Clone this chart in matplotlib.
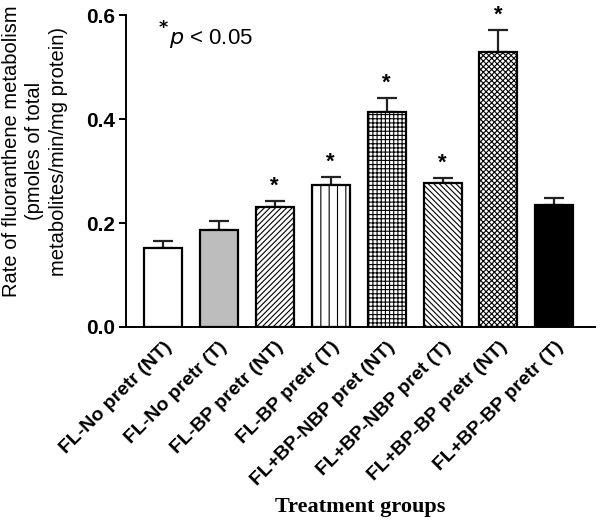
import matplotlib
matplotlib.use("Agg")
import matplotlib.pyplot as plt
import numpy as np

categories = ["FL-No pretr (NT)", "FL-No pretr (T)", "FL-BP pretr (NT)", "FL-BP pretr (T)",
              "FL+BP-NBP pret (NT)", "FL+BP-NBP pret (T)", "FL+BP-BP pretr (NT)", "FL+BP-BP pretr (T)"]
values = [0.152, 0.187, 0.231, 0.273, 0.414, 0.277, 0.529, 0.235]
errors = [0.013, 0.017, 0.011, 0.016, 0.026, 0.010, 0.042, 0.013]
significant = [False, False, True, True, True, True, True, False]
y_ticks = [0.0, 0.2, 0.4, 0.6]

facecolors = ["white", "#bdbdbd", "white", "white", "white", "white", "white", "black"]
hatches = [None, None, "//////", "||", "++++", "\\\\\\\\\\\\", "xxxxxx", None]

plt.rcParams['hatch.linewidth'] = 0.8
fig = plt.figure(figsize=(6.0, 5.24), dpi=100)
ax = fig.add_axes([0.21, 0.376, 0.782, 0.595])

x = np.arange(len(categories))
for i in x:
    ax.bar(i, values[i], width=0.68, color=facecolors[i], edgecolor="black",
           linewidth=1.6, hatch=hatches[i], zorder=2)
    ax.errorbar(i, values[i], yerr=[[0], [errors[i]]], fmt="none", ecolor="#222222",
                elinewidth=1.6, capsize=7, capthick=1.6, zorder=1)
    if significant[i]:
        ax.text(i, values[i] + errors[i] + 0.008, "*", ha="center", va="bottom",
                fontsize=16, fontweight="bold", family="Liberation Sans")

ax.set_xlim(-0.66, 7.73)
ax.set_ylim(0, 0.6)
ax.set_yticks(y_ticks)
ax.set_yticklabels(["%.1f" % t for t in y_ticks], fontsize=15, fontweight="bold", family="Liberation Sans")
ax.set_xticks(x)
ax.set_xticklabels(categories, rotation=45, ha="right", rotation_mode="anchor",
                   fontsize=14, fontweight="bold", family="Liberation Sans")
ax.tick_params(axis="x", length=0, pad=8)
ax.tick_params(axis="y", length=5, width=1.4, direction="out", pad=3)
for s in ["top", "right"]:
    ax.spines[s].set_visible(False)
for s in ["left", "bottom"]:
    ax.spines[s].set_linewidth(1.4)

fig.text(0.058, 1 - 151 / 524, "Rate of fluoranthene metabolism\n(pmoles of total\nmetabolites/min/mg protein)",
         fontsize=14.5, family="Liberation Sans", rotation=90, ha="center", va="center",
         linespacing=1.3, multialignment="center")
fig.text(0.6, 1 - 507 / 524, "Treatment groups", ha="center", va="center", fontsize=16,
         fontweight="bold", family="Liberation Serif")

ax.text(0.068, 0.94, r"$^{\bf{*}}$", transform=ax.transAxes, fontsize=18, ha="left", va="center")
ax.text(0.092, 0.925, r"$p$ < 0.05", transform=ax.transAxes, fontsize=16,
        family="Liberation Sans", ha="left", va="center")

fig.savefig("out.png", dpi=100)
